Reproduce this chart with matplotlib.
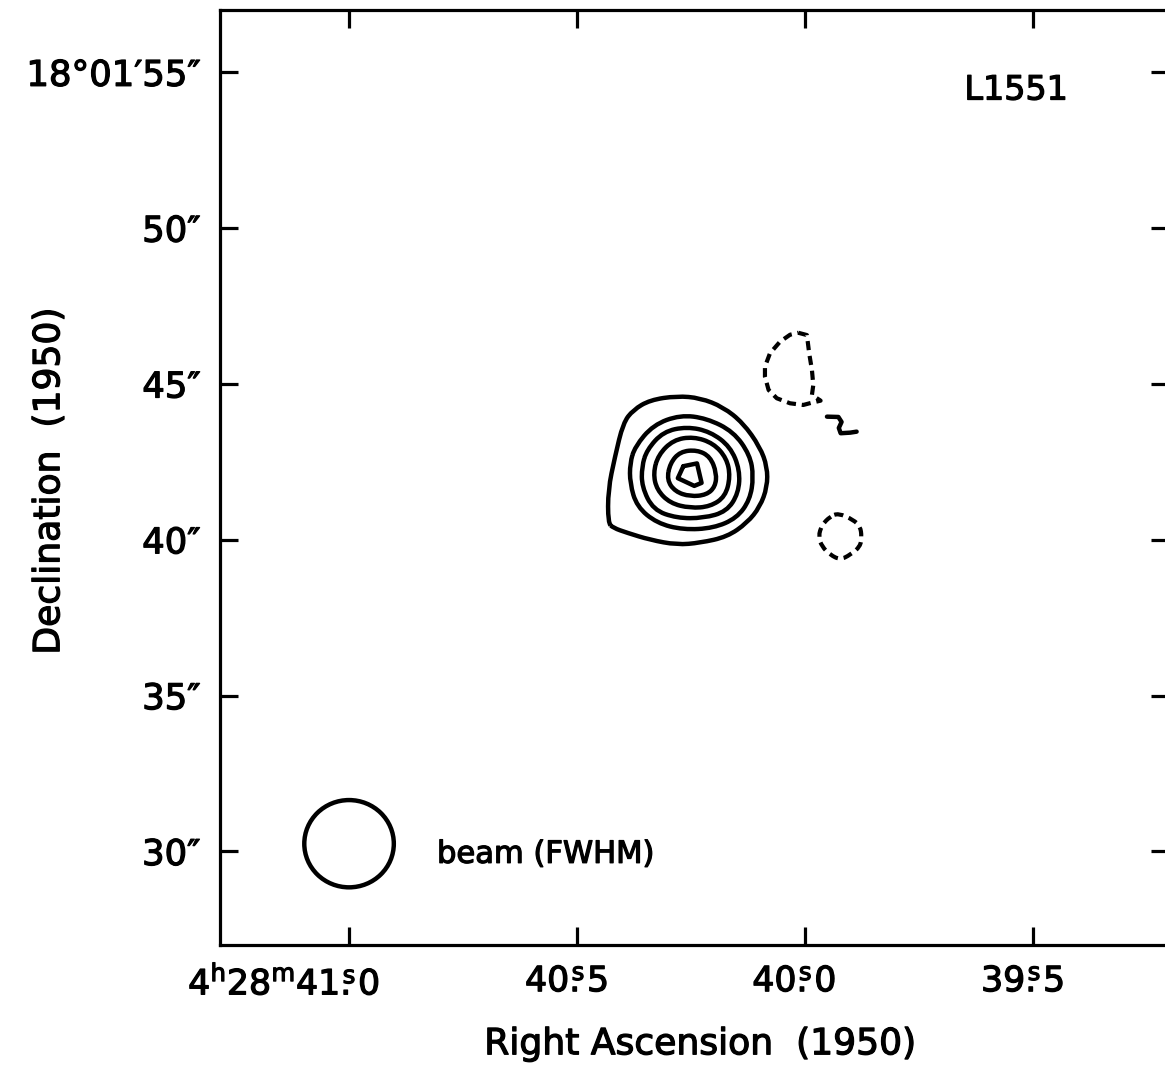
import numpy as np
import matplotlib
matplotlib.use("Agg")
import matplotlib.pyplot as plt
import matplotlib.patheffects as pe
from matplotlib.patches import Ellipse, PathPatch
from matplotlib.path import Path
from matplotlib.transforms import ScaledTranslation

plt.rcParams['font.family'] = ['DejaVu Sans']
plt.rcParams['mathtext.fontset'] = 'dejavusans'

# Field: RA in seconds of 4h28m, Dec in arcsec of 18d01m (B1950)
ra_limits = [41.283, 39.202]
dec_limits = [27.0, 57.0]
dec_deg = 18.03

ra_ticks = [41.0, 40.5, 40.0, 39.5]
ra_tick_labels = [r"$4^{\mathrm{h}}28^{\mathrm{m}}41\overset{\mathrm{s}}{.}0$",
                  r"$40\overset{\mathrm{s}}{.}5$",
                  r"$40\overset{\mathrm{s}}{.}0$",
                  r"$39\overset{\mathrm{s}}{.}5$"]
dec_ticks = [30, 35, 40, 45, 50, 55]
dec_tick_labels = ["30\u2033", "35\u2033", "40\u2033", "45\u2033", "50\u2033",
                   "18\u00b001\u203255\u2033"]

# Positive contours, lowest level outward
outer_ra = [40.432, 40.432, 40.417, 40.399, 40.377, 40.340, 40.281, 40.230, 40.180,
            40.136, 40.099, 40.083, 40.083, 40.099, 40.127, 40.171, 40.230, 40.281,
            40.340, 40.390, 40.421]
outer_dec = [40.545, 41.603, 42.660, 43.750, 44.167, 44.487, 44.615, 44.551, 44.263,
             43.750, 42.981, 42.340, 41.699, 41.058, 40.545, 40.096, 39.904, 39.840,
             40.000, 40.224, 40.385]

ring_d_ra = [40.373, 40.333, 40.274, 40.216, 40.157, 40.121, 40.113, 40.121, 40.150,
             40.201, 40.267, 40.325, 40.369, 40.384, 40.384]
ring_d_dec = [42.990, 43.686, 44.006, 43.900, 43.471, 42.724, 42.029, 41.282, 40.695,
              40.375, 40.321, 40.535, 41.067, 41.817, 42.458]

ring_c_ra = [40.347, 40.311, 40.259, 40.208, 40.164, 40.143, 40.146, 40.172, 40.223,
             40.281, 40.333, 40.358, 40.358]
ring_c_dec = [42.885, 43.471, 43.631, 43.471, 42.990, 42.243, 41.497, 40.907, 40.695,
              40.695, 40.961, 41.708, 42.349]

ring_b_ra = [40.322, 40.289, 40.245, 40.201, 40.172, 40.164, 40.175, 40.208, 40.252,
             40.296, 40.325, 40.333]
ring_b_dec = [42.724, 43.205, 43.311, 43.099, 42.618, 42.029, 41.388, 41.067, 41.016,
              41.176, 41.603, 42.138]

ring_a_ra = [40.296, 40.274, 40.237, 40.208, 40.194, 40.197, 40.216, 40.252, 40.285,
             40.303]
ring_a_dec = [42.458, 42.830, 42.885, 42.670, 42.138, 41.708, 41.442, 41.388, 41.548,
              41.923]

peak_ra = [40.267, 40.237, 40.227, 40.243, 40.279]
peak_dec = [42.362, 42.452, 41.827, 41.731, 41.978]

# Open fragment of the lowest positive level
knot_ra = [39.952, 39.927, 39.920, 39.926, 39.922, 39.901, 39.887]
knot_dec = [43.952, 43.942, 43.782, 43.590, 43.420, 43.439, 43.471]

# Negative contours
neg_north_ra = [40.015, 39.996, 39.991, 39.985, 39.982, 39.985, 39.966, 39.985, 40.004,
                40.033, 40.062, 40.080, 40.088, 40.088, 40.077, 40.055, 40.033]
neg_north_dec = [46.644, 46.570, 45.984, 45.449, 44.968, 44.647, 44.465, 44.401, 44.327,
                 44.381, 44.542, 44.808, 45.234, 45.555, 45.984, 46.356, 46.580]

neg_south_ra = [39.927, 39.894, 39.879, 39.876, 39.879, 39.901, 39.923, 39.945, 39.963,
                39.971, 39.963, 39.945]
neg_south_dec = [40.856, 40.641, 40.426, 40.106, 39.785, 39.519, 39.359, 39.519, 39.785,
                 40.106, 40.481, 40.747]

# Synthesized beam
beam_ra = 41.0
beam_dec = 30.25
beam_fwhm = 2.8  # arcsec

fig = plt.figure(figsize=(11.65, 10.71), dpi=100)
ax = fig.add_axes([0.18884, 0.11765, 0.81459, 0.87302])


def closed(xs, ys):
    return np.append(xs, xs[0]), np.append(ys, ys[0])


def smooth_loop(xs, ys):
    """Closed quadratic-Bezier path using the contour vertices as control points."""
    pts = np.column_stack([xs, ys])
    n = len(pts)
    mids = 0.5 * (pts + np.roll(pts, -1, axis=0))
    verts = [mids[-1]]
    codes = [Path.MOVETO]
    for i in range(n):
        verts += [pts[i], mids[i]]
        codes += [Path.CURVE3, Path.CURVE3]
    return Path(verts, codes)


lw_solid = 3.2
for xs, ys in [(outer_ra, outer_dec), (ring_d_ra, ring_d_dec), (ring_c_ra, ring_c_dec),
               (ring_b_ra, ring_b_dec), (ring_a_ra, ring_a_dec)]:
    ax.add_patch(PathPatch(smooth_loop(xs, ys), fill=False, edgecolor='black',
                           lw=lw_solid, joinstyle='round'))
ax.plot(*closed(peak_ra, peak_dec), color='black', lw=lw_solid,
        solid_joinstyle='round', solid_capstyle='round')
ax.plot(knot_ra, knot_dec, color='black', lw=lw_solid,
        solid_joinstyle='round', solid_capstyle='round')

dash = (0, (2.2, 1.4))
ax.plot(*closed(neg_north_ra, neg_north_dec), color='black', lw=3.0, linestyle=dash)
ax.add_patch(PathPatch(smooth_loop(neg_south_ra, neg_south_dec), fill=False,
                       edgecolor='black', lw=3.0, linestyle=dash))

beam_width_s = beam_fwhm / (15.0 * np.cos(np.radians(dec_deg)))
ax.add_patch(Ellipse((beam_ra, beam_dec), beam_width_s, beam_fwhm,
                     fill=False, edgecolor='black', lw=3.2))

bold_ink = [pe.withStroke(linewidth=0.9, foreground='black')]

ax.text(0.2287, 0.097, "beam (FWHM)", transform=ax.transAxes, fontsize=22,
        ha='left', va='center', path_effects=bold_ink)
ax.text(0.839, 0.9144, "L1551", transform=ax.transAxes, fontsize=24,
        ha='center', va='center', path_effects=bold_ink)

ax.set_xlim(ra_limits)
ax.set_ylim(dec_limits)

ax.set_xticks(ra_ticks)
ax.set_xticklabels(ra_tick_labels, fontsize=25)
ax.set_yticks(dec_ticks)
ax.set_yticklabels(dec_tick_labels, fontsize=25.5)
ax.tick_params(direction='in', length=13, width=2.3, top=True, right=True,
               labeltop=False, labelright=False)
ax.tick_params(axis='x', pad=14)
ax.tick_params(axis='y', pad=14)

# Put the decimal point of each RA label under its tick
shift = ScaledTranslation(0.31, 0, fig.dpi_scale_trans)
for lab in ax.get_xticklabels():
    lab.set_horizontalalignment('right')
    lab.set_transform(lab.get_transform() + shift)
    lab.set_path_effects(bold_ink)
for lab in ax.get_yticklabels():
    lab.set_path_effects(bold_ink)

for sp in ax.spines.values():
    sp.set_linewidth(2.3)

ax.set_xlabel("Right Ascension  (1950)", fontsize=26, path_effects=bold_ink)
ax.set_ylabel("Declination  (1950)", fontsize=26, path_effects=bold_ink)
ax.xaxis.set_label_coords(0.506, -0.088)
ax.yaxis.set_label_coords(-0.162, 0.496)

fig.savefig("out.png", dpi=100)
